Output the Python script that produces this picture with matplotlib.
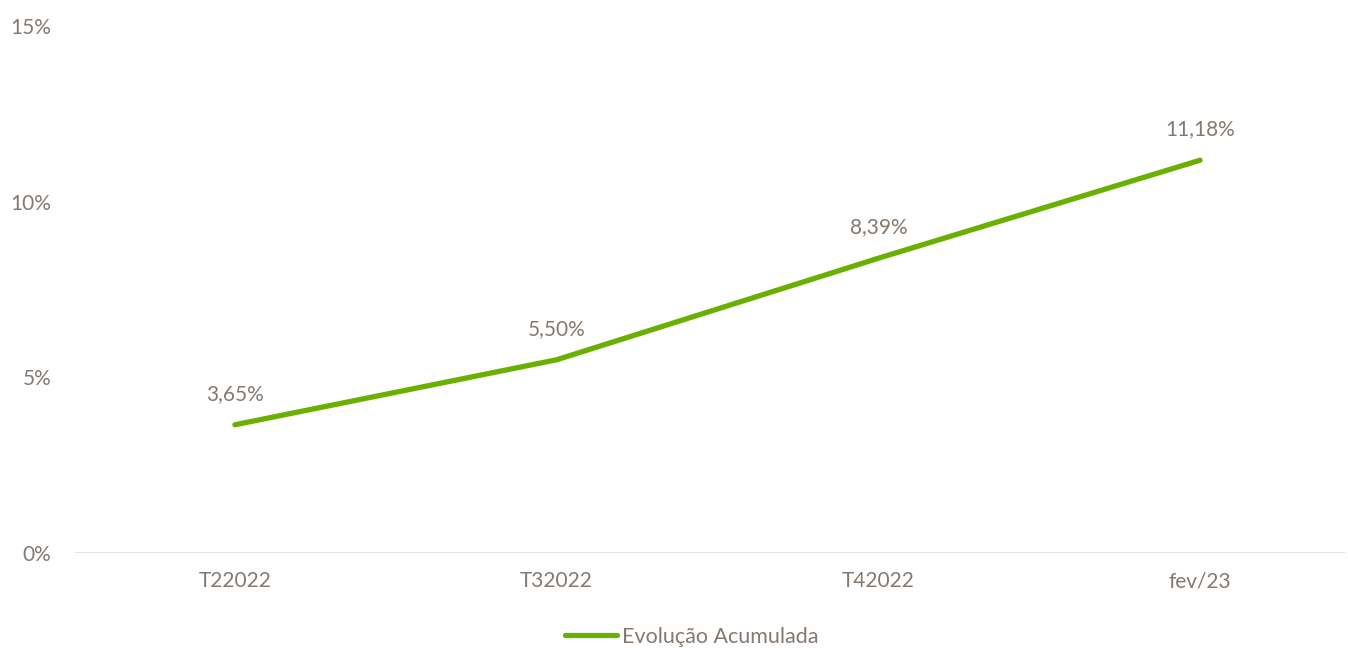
import matplotlib
matplotlib.use("Agg")
import matplotlib.pyplot as plt
from matplotlib.lines import Line2D

categories = ["T22022", "T32022", "T42022", "fev/23"]
values = [3.65, 5.50, 8.39, 11.18]
labels = ["3,65%", "5,50%", "8,39%", "11,18%"]
yticks = [0, 5, 10, 15]
ytick_labels = ["0%", "5%", "10%", "15%"]
series_name = "Evolução Acumulada"

txt = "#857A72"
green = "#6AB000"
plt.rcParams['font.family'] = ['Lato', 'DejaVu Sans']
fs = 15

fig = plt.figure(figsize=(13.48, 6.48), dpi=100)
ax = fig.add_axes([75/1348, (648-553)/648, 1 - 75/1348, (553-26)/648])
x = list(range(len(categories)))
ax.plot(x, values, color=green, lw=3.8, solid_capstyle='round')
for xi, v, l in zip(x, values, labels):
    ax.annotate(l, (xi, v), xytext=(0, 15), textcoords='offset points',
                ha='center', va='bottom', color=txt, fontsize=fs)
ax.set_xlim(-0.497, (1348-235)/321.7)
ax.set_ylim(0, 15)
ax.set_xticks(x)
ax.set_xticklabels(categories, color=txt, fontsize=fs)
ax.set_yticks(yticks)
ax.set_yticklabels(ytick_labels, color=txt, fontsize=fs)
ax.tick_params(length=0)
ax.tick_params(axis='x', pad=13)
ax.tick_params(axis='y', pad=17)
for s in ax.spines.values():
    s.set_visible(False)
ax.axhline(0, color="#E3E3E3", lw=1.3, xmax=(1345-75)/(1348-75))

handle = Line2D([0], [0], color=green, lw=3.8, solid_capstyle='round')
fig.legend([handle], [series_name], loc='center', bbox_to_anchor=(0.5135, 1 - 637/648),
           frameon=False, fontsize=15.5, labelcolor=txt, handlelength=2.4, handletextpad=0.25)
fig.savefig("out.png", dpi=100)
